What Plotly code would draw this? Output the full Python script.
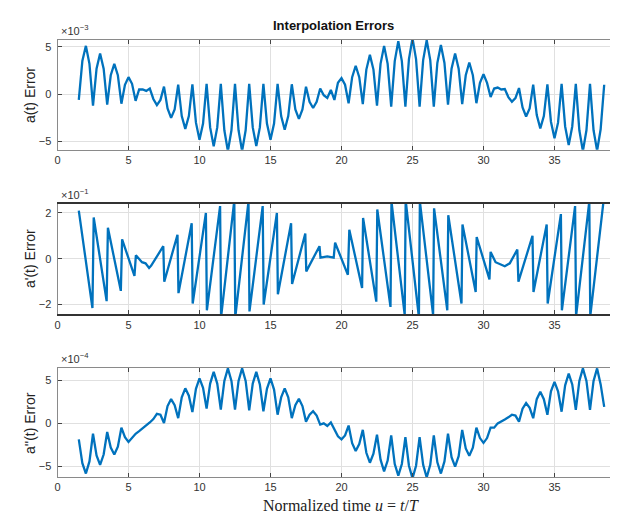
import plotly.graph_objects as go

# ---- data ----
# common sampling grid for a(t) and a''(t) errors (normalized time u)
u_grid = [round(1.5 + 0.25 * i, 2) for i in range(149)]

# a(t) error, units of 1e-3
a_err = [
    -0.6, 3.5,
    5.1, 3.2, -1.2, 2.7,
    4.3, 2.7, -1.1, 2.0,
    3.2, 2.0, -1.0, 1.0,
    1.8, 1.1, -0.7, 0.5,
    0.5, 0.35, 0.6, -0.5,
    -1.15, -0.6, 0.8, -1.5,
    -2.5, -1.6, 1.0, -2.3,
    -3.65, -2.3, 1.05, -3.0,
    -4.8, -3.1, 1.1, -3.5,
    -5.5, -3.5, 1.1, -3.8,
    -6.0, -3.8, 1.1, -3.8,
    -6.0, -3.8, 1.1, -3.5,
    -5.45, -3.5, 1.1, -3.1,
    -4.8, -3.1, 1.1, -2.3,
    -3.75, -2.3, 1.05, -1.6,
    -2.6, -1.6, 0.8, -0.8,
    -1.45, -0.8, 0.6, -0.1,
    -0.4, 0.45, -0.6, 1.2,
    1.7, 1.0, -0.95, 1.8,
    3.0, 1.8, -1.05, 2.6,
    4.15, 2.6, -1.2, 3.2,
    5.1, 3.2, -1.3, 3.5,
    5.6, 3.5, -1.3, 3.7,
    5.9, 3.7, -1.3, 3.6,
    5.7, 3.6, -1.3, 3.3,
    5.2, 3.3, -1.1, 2.7,
    4.3, 2.7, -1.05, 2.0,
    3.35, 2.0, -0.95, 1.2,
    2.1, 1.2, -0.3, 0.6,
    0.7, 0.5, 0.55, -0.3,
    -0.8, -0.4, 0.65, -1.4,
    -2.35, -1.5, 1.0, -2.2,
    -3.6, -2.3, 1.05, -2.9,
    -4.65, -3.0, 1.1, -3.4,
    -5.35, -3.4, 1.1, -3.8,
    -6.0, -3.8, 1.1, -3.8,
    -5.95, -3.7, 1.0,
]

# a''(t) error, units of 1e-4
add_err = [
    -1.85, -4.6,
    -5.8, -4.4, -1.2, -3.7,
    -4.8, -3.6, -1.0, -2.8,
    -3.6, -2.7, -0.5, -1.6,
    -2.15, -1.7, -1.2, -0.9,
    -0.6, -0.3, 0.1, 0.5,
    1.1, 1.0, 0.05, 2.0,
    2.8, 2.1, 0.6, 3.0,
    4.05, 3.2, 1.3, 4.0,
    5.2, 4.1, 1.7, 4.6,
    5.95, 4.6, 1.6, 4.9,
    6.35, 4.9, 1.6, 4.9,
    6.35, 4.9, 1.5, 4.6,
    5.95, 4.5, 1.4, 4.0,
    5.2, 3.9, 1.0, 3.0,
    4.05, 3.0, 0.6, 2.1,
    2.85, 2.0, 0.2, 1.0,
    1.4, 0.9, -0.15, 0.0,
    -0.3, 0.1, -0.8, -1.5,
    -1.85, -1.4, -0.25, -2.3,
    -3.2, -2.4, -0.75, -3.4,
    -4.55, -3.5, -1.3, -4.2,
    -5.55, -4.3, -1.4, -4.7,
    -6.05, -4.7, -1.6, -4.9,
    -6.35, -4.9, -1.6, -4.8,
    -6.25, -4.8, -1.4, -4.5,
    -5.8, -4.4, -1.2, -3.9,
    -5.0, -3.8, -0.75, -2.9,
    -3.75, -2.8, -0.5, -1.7,
    -2.25, -1.7, -0.5, -0.5,
    0.0, 0.2, 0.45, 0.7,
    1.0, 0.9, 0.2, 1.7,
    2.35, 1.8, 0.6, 2.8,
    3.65, 2.8, 1.0, 3.7,
    4.8, 3.7, 1.35, 4.4,
    5.75, 4.5, 1.55, 4.9,
    6.35, 4.9, 1.55, 4.9,
    6.35, 4.5, 1.9,
]

# a'(t) error (sawtooth), units of 1e-1
u_d = [1.5, 2.46, 2.55, 3.46, 3.55, 4.46, 4.55, 5.42, 5.52, 5.95, 6.2, 6.45, 6.6,
       7.45, 7.52, 8.45, 8.52, 9.45, 9.52, 10.45, 10.52, 11.45, 11.52, 12.45, 12.52,
       13.45, 13.52, 14.45, 14.52, 15.45, 15.52, 16.45, 16.52, 17.45, 17.52, 18.45,
       18.52, 19.0, 19.45, 19.55, 20.45, 20.55, 21.45, 21.52, 22.45, 22.52, 23.45,
       23.52, 24.45, 24.52, 25.45, 25.52, 26.45, 26.52, 27.45, 27.52, 28.45, 28.52,
       29.45, 29.52, 30.42, 30.5, 30.85, 31.2, 31.5, 31.85, 32.38, 32.46, 33.45,
       33.52, 34.45, 34.52, 35.45, 35.52, 36.45, 36.52, 37.45, 37.52, 38.45]
ad_err = [2.1, -2.15, 1.8, -1.85, 1.35, -1.4, 0.85, -0.75, 0.15, -0.15, -0.2, -0.4, -0.3,
          0.55, -1.0, 1.05, -1.5, 1.55, -1.95, 2.0, -2.25, 2.3, -2.55, 2.55, -2.55,
          2.5, -2.3, 2.3, -2.0, 2.0, -1.55, 1.55, -1.1, 1.1, -0.55, 0.55,
          0.05, 0.1, 0.05, 0.7, -0.7, 1.27, -1.28, 1.78, -1.87, 2.15, -2.1,
          2.5, -2.45, 2.55, -2.55, 2.5, -2.45, 2.2, -2.25, 1.9, -1.95, 1.5,
          -1.45, 0.95, -0.9, 0.3, -0.15, -0.25, -0.33, -0.2, 0.4, -1.0, 1.0,
          -1.45, 1.5, -1.95, 1.95, -2.25, 2.3, -2.5, 2.5, -2.5, 2.5]

x_ticks = [0, 5, 10, 15, 20, 25, 30, 35, 40]
y_ticks_top = [-5, 0, 5]
y_ticks_mid = [-2, 0, 2]
y_ticks_bot = [-5, 0, 5]
y_titles = ["a(t) Error", "a'(t) Error", "a''(t) Error"]
exponents = ["\u00d710<sup>\u22123</sup>", "\u00d710<sup>\u22121</sup>", "\u00d710<sup>\u22124</sup>"]

# ---- figure ----
W, H = 618, 512
LINE = "#0072BD"
LW = 2.3
fig = go.Figure()
fig.add_trace(go.Scatter(x=u_grid, y=a_err, mode="lines", line=dict(color=LINE, width=LW),
                         xaxis="x", yaxis="y", showlegend=False))
fig.add_trace(go.Scatter(x=u_d, y=ad_err, mode="lines", line=dict(color=LINE, width=LW),
                         xaxis="x2", yaxis="y2", showlegend=False))
fig.add_trace(go.Scatter(x=u_grid, y=add_err, mode="lines", line=dict(color=LINE, width=LW),
                         xaxis="x3", yaxis="y3", showlegend=False))

xdom = [49.5 / W, 617.5 / W]
boxes = [(31.7, 141.7), (196, 306), (360, 469)]
ydoms = [[1 - b / H, 1 - t / H] for (t, b) in boxes]
yranges = [[-5.85, 5.75], [-2.41, 2.39], [-6.2, 6.4]]
yticks = [y_ticks_top, y_ticks_mid, y_ticks_bot]

tickfont = dict(family="Liberation Sans, Arial", size=11, color="#333333")
layout = dict(width=W, height=H, margin=dict(l=0, r=0, t=0, b=0),
              paper_bgcolor="white", plot_bgcolor="white", showlegend=False)
for i in range(3):
    sx = "" if i == 0 else str(i + 1)
    dark = (i == 1)
    layout["xaxis" + sx] = dict(
        domain=xdom, anchor="y" + sx, range=[0, 40], tickvals=x_ticks,
        ticks="inside", ticklen=4, tickcolor="#444", mirror="allticks",
        showline=True, linecolor="#333333" if dark else "#8a8a8a",
        linewidth=2 if dark else 1,
        showgrid=True, gridcolor="#e0e0e0", zeroline=False,
        tickfont=tickfont, ticklabelstandoff=0, ticklabeloverflow="allow",
        automargin=False, fixedrange=True)
    layout["yaxis" + sx] = dict(
        domain=ydoms[i], anchor="x" + sx, range=yranges[i], tickvals=yticks[i],
        ticks="inside", ticklen=4, tickcolor="#444", mirror="allticks",
        showline=True, linecolor="#8a8a8a", linewidth=1,
        showgrid=True, gridcolor="#e0e0e0", zeroline=False,
        tickfont=tickfont, ticklabelstandoff=3, automargin=False, fixedrange=True)
fig.update_layout(**layout)

ann = []
ann.append(dict(text="<b>Interpolation Errors</b>", x=325 / W, y=1 - 17 / H,
                xref="paper", yref="paper", showarrow=False, xanchor="center", yanchor="middle",
                font=dict(family="Liberation Sans, Arial", size=13, color="#111")))
exp_y = [22, 186, 350]
ylab_y = [87, 251, 415]
for i in range(3):
    ann.append(dict(text=exponents[i], x=51 / W, y=1 - exp_y[i] / H, xref="paper", yref="paper",
                    showarrow=False, xanchor="left", yanchor="middle",
                    font=dict(family="Liberation Sans, Arial", size=11, color="#333")))
    ann.append(dict(text=y_titles[i], x=22 / W, y=1 - ylab_y[i] / H, xref="paper", yref="paper",
                    showarrow=False, xanchor="center", yanchor="middle", textangle=-90,
                    font=dict(family="Liberation Sans, Arial", size=14, color="#222")))
ann.append(dict(text="Normalized time <i>u</i> = <i>t</i>/<i>T</i>", x=333 / W, y=1 - 497 / H,
                xref="paper", yref="paper", showarrow=False, xanchor="center", yanchor="middle",
                font=dict(family="Liberation Serif, DejaVu Serif", size=16, color="#222")))
fig.update_layout(annotations=ann)

fig.write_html("out.html")
